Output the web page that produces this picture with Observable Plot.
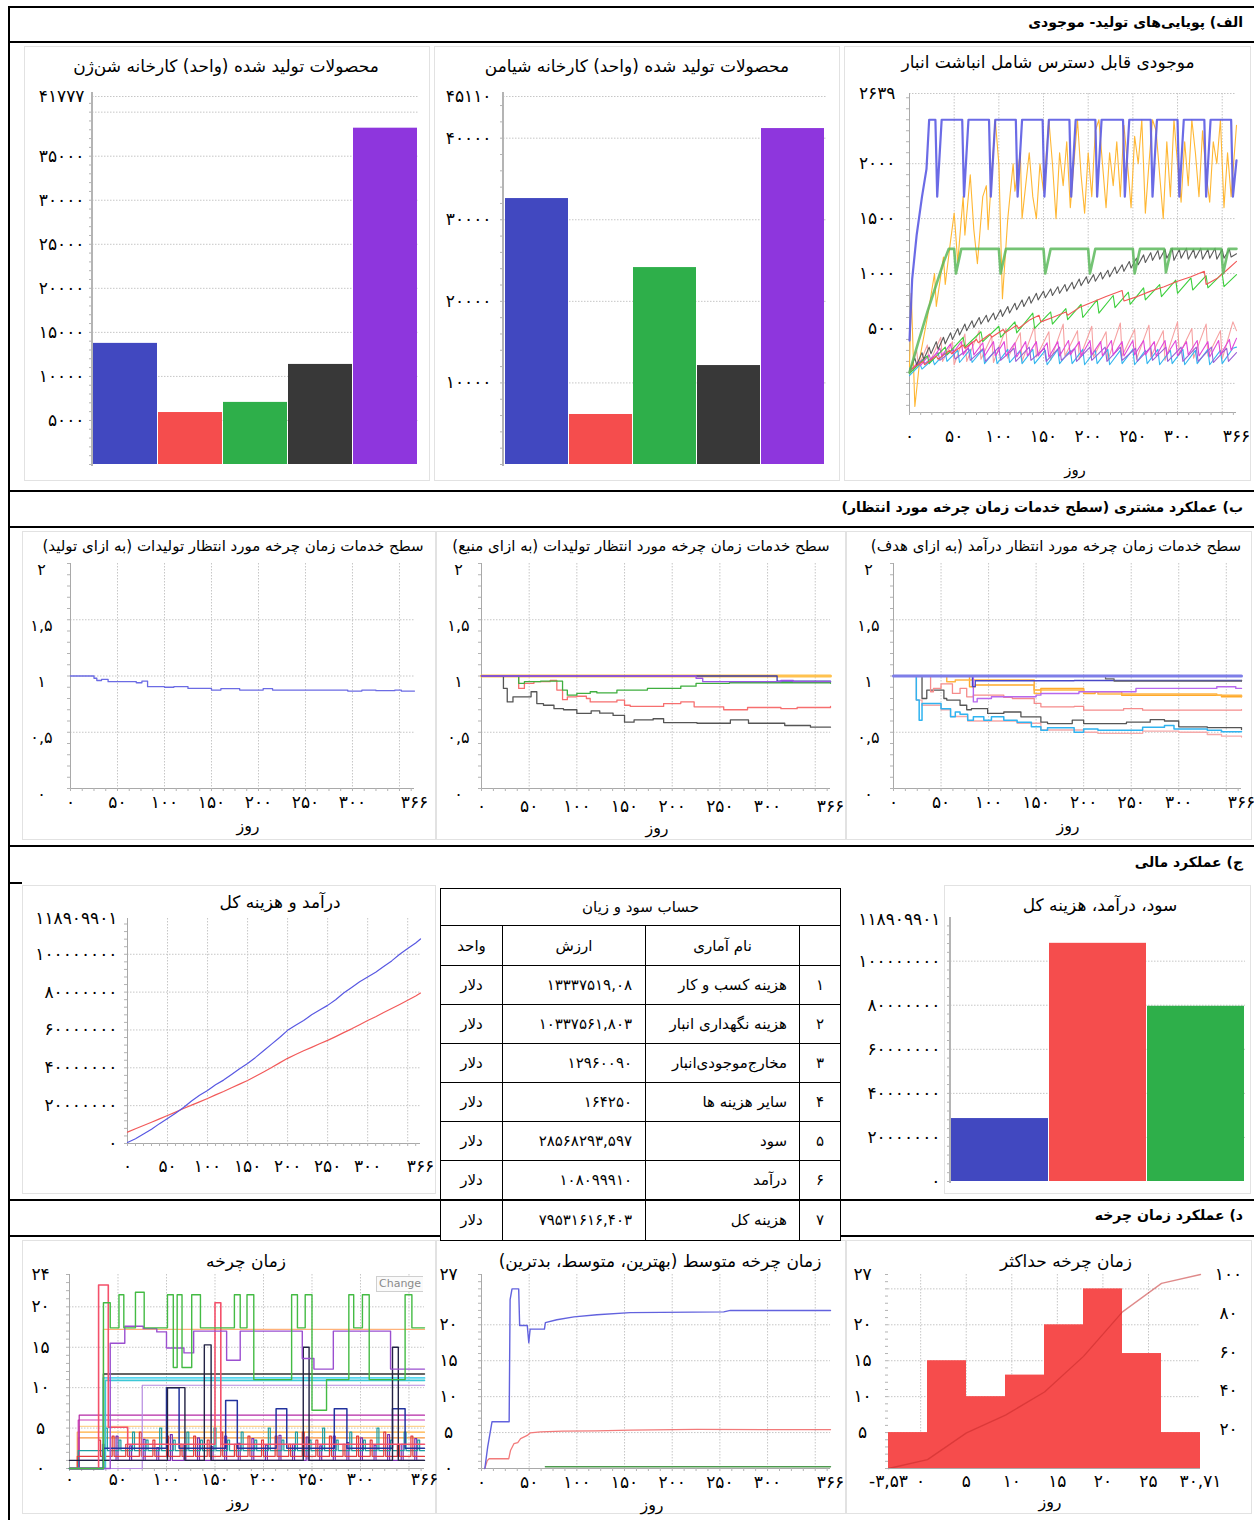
<!DOCTYPE html>
<html lang="fa">
<head>
<meta charset="utf-8">
<title>پویایی‌های تولید، عملکرد مشتری، عملکرد مالی و زمان چرخه</title>
<script src="https://cdn.jsdelivr.net/npm/d3@7"></script>
<script src="https://cdn.jsdelivr.net/npm/@observablehq/plot@0.6"></script>
<style>
  html, body { margin: 0; padding: 0; background: #fff; }
  #page { position: relative; width: 1254px; height: 1520px; overflow: hidden; background: #fff;
          font-family: "DejaVu Sans", sans-serif; color: #000; }
  .rule { position: absolute; background: #000; }
  .soft { position: absolute; background: #b4b4b4; }
  .frame { position: absolute; border: 1.5px solid #e2e2e2; box-sizing: border-box; }
  .lbl { position: absolute; white-space: nowrap; direction: rtl; line-height: 1.2; }
  table.pl { position: absolute; left: 440px; top: 888px; width: 400px; border-collapse: collapse;
             direction: rtl; font-size: 15px; background: #fff; table-layout: fixed; }
  table.pl td { border: 1.5px solid #000; padding: 0 12px; white-space: nowrap; }
  table.pl td.c { text-align: center; padding: 0; }
  table.pl td.r { text-align: right; }
  table.pl td.v { text-align: right; direction: ltr; padding-right: 13px; }
  .btn { position: absolute; left: 376px; top: 1276px; width: 44px; height: 14px; border: 1px solid #cfcfcf;
         border-right: none; font: 11px "DejaVu Sans", sans-serif; color: #8a8a8a; line-height: 14px;
         overflow: hidden; padding-left: 2px; background: #fafafa; }
</style>
</head>
<body>
<div id="page"></div>
<script>
// ---------- tick values ----------
const ticksA1 = [5000, 10000, 15000, 20000, 25000, 30000, 35000, 41777];
const gridA1 = [5000, 10000, 15000, 20000, 25000, 30000, 35000, 40000, 41777];
const ticksA2 = [10000, 20000, 30000, 40000, 45110];
const gridA2 = [10000, 20000, 30000, 40000, 45110];
const ticksA3 = [500, 1000, 1500, 2000, 2639];
const gridA3 = [0, 500, 1000, 1500, 2000, 2639];
const dayTicks = [0, 50, 100, 150, 200, 250, 300, 366];
const dayGrid = [50, 100, 150, 200, 250, 300, 350];
const svcTicks = [0, 0.5, 1, 1.5, 2];
const svcGrid = [0.5, 1, 1.5];
const moneyTicks = [0, 20000000, 40000000, 60000000, 80000000, 100000000, 118909901];
const moneyGrid = [20000000, 40000000, 60000000, 80000000, 100000000];
const ctTicks = [0, 5, 10, 15, 20, 24];
const ctGrid = [5, 10, 15, 20];
const avgTicks = [0, 5, 10, 15, 20, 27];
const avgGrid = [5, 10, 15, 20];
const histXTicks = [-3.53, 0, 5, 10, 15, 20, 25, 30.71];
const histXGrid = [0, 5, 10, 15, 20, 25];
const histYTicks = [5, 10, 15, 20, 27];
const histYGrid = [5, 10, 15, 20, 25];
const histPctTicks = [20, 40, 60, 80, 100];

// ---------- produced units per product ----------
const productIds = ["محصول ۱", "محصول ۲", "محصول ۳", "محصول ۴", "محصول ۵"];
const productColors = ["#4148c0", "#f54d4d", "#2eaf4a", "#383838", "#8e36dd"];
const producedShenzhen = [13750, 5900, 7050, 11360, 38180];
const producedXiamen = [32600, 6130, 24140, 12130, 41180];

// ---------- available inventory (day, units) ----------
const invBlue = [[0,390],[3,950],[8,1350],[14,1700],[19,1950],[22,2400],[29,2400],[31,1700],[36,2400],[59,2400],[61,1700],[66,2400],[89,2400],[91,1700],[96,2400],[119,2400],[121,1700],[126,2400],[149,2400],[151,1700],[156,2400],[179,2400],[181,1700],[186,2400],[208,2400],[210,1700],[215,2400],[239,2400],[241,1700],[246,2400],[270,2400],[272,1700],[277,2400],[300,2400],[302,1700],[307,2400],[330,2400],[332,1700],[337,2400],[360,2400],[362,1700],[366,2030]];
const invOrange = [[0,150],[2,820],[6,-210],[12,250],[20,600],[28,1000],[30,700],[38,1150],[40,900],[46,1300],[50,1550],[54,1100],[60,1700],[62,1350],[68,1900],[72,1400],[76,1090],[82,1700],[86,1800],[88,1400],[92,1900],[96,2400],[100,2000],[104,770],[110,1500],[116,2000],[118,1750],[124,2100],[126,1500],[130,1800],[134,2100],[138,1700],[142,1500],[146,2000],[150,1750],[156,2400],[160,2000],[164,1500],[168,2100],[172,1800],[176,2200],[180,1600],[184,2000],[188,2400],[192,1900],[196,1550],[200,2100],[204,1700],[208,2300],[212,2400],[216,2000],[220,1600],[224,2100],[228,1800],[232,2200],[236,1700],[240,2350],[244,2000],[248,1600],[252,2250],[256,2000],[260,2400],[264,1550],[268,2000],[272,2400],[276,2300],[280,1900],[284,1500],[288,2200],[292,1700],[296,2400],[300,2000],[304,1650],[308,2200],[312,1800],[316,2400],[320,2100],[324,1700],[328,2300],[332,1900],[336,1650],[340,2200],[344,2000],[348,2400],[352,1600],[356,2100],[360,1700],[366,2350]];
const invGreen = [[0,100],[10,380],[20,650],[30,900],[38,1100],[44,1225],[50,1225],[52,1000],[58,1225],[100,1225],[102,1000],[108,1225],[150,1225],[152,1000],[158,1225],[200,1225],[202,1000],[208,1225],[250,1225],[252,1000],[258,1225],[285,1225],[287,1010],[293,1225],[349,1225],[351,1000],[357,1225],[366,1225]];
const invGray = [[0,120],[6,230],[8,170],[14,280],[16,220],[22,330],[24,270],[30,380],[32,310],[38,420],[40,360],[46,460],[48,400],[54,500],[56,440],[62,540],[64,480],[70,570],[72,510],[78,600],[80,540],[86,620],[88,560],[94,640],[96,580],[102,670],[104,610],[110,700],[112,640],[118,730],[120,670],[126,760],[128,700],[134,790],[136,730],[142,820],[144,760],[150,840],[152,780],[158,860],[160,800],[166,880],[168,820],[174,900],[176,840],[182,920],[184,860],[190,950],[192,890],[198,970],[200,910],[206,990],[208,930],[214,1010],[216,950],[222,1030],[224,970],[230,1060],[232,1000],[238,1080],[240,1020],[246,1110],[248,1050],[254,1140],[256,1080],[262,1170],[264,1100],[270,1190],[272,1120],[278,1210],[280,1130],[286,1220],[288,1140],[294,1230],[296,1120],[302,1220],[304,1140],[310,1230],[312,1130],[318,1220],[320,1140],[326,1230],[328,1130],[334,1220],[336,1140],[342,1230],[344,1130],[350,1220],[352,1140],[358,1220],[360,1150],[366,1180]];
const invRed = [[0,120],[15,200],[17,170],[30,250],[32,220],[45,300],[47,270],[60,350],[62,320],[75,400],[77,370],[90,450],[92,420],[105,490],[107,460],[120,530],[122,500],[135,580],[145,620],[147,560],[160,600],[175,650],[177,620],[190,690],[205,740],[220,790],[238,845],[240,750],[255,790],[270,840],[285,880],[300,930],[315,970],[330,1020],[332,900],[345,960],[355,1030],[366,1110]];
const invLime = [[0,90],[20,250],[22,180],[40,330],[42,260],[60,420],[62,330],[80,470],[82,380],[100,520],[102,420],[118,560],[120,460],[138,640],[140,500],[158,650],[160,540],[175,680],[177,580],[192,720],[194,600],[210,760],[212,640],[228,800],[230,690],[245,830],[247,720],[262,870],[264,760],[280,900],[282,790],[298,940],[300,820],[315,960],[317,850],[332,980],[334,870],[350,1000],[352,880],[366,990]];
const invMagenta = [[0,100],[10,200],[12,160],[22,260],[24,210],[34,320],[36,250],[46,360],[48,270],[58,380],[60,260],[70,380],[72,260],[82,370],[84,250],[94,380],[96,250],[106,380],[108,250],[118,370],[120,240],[130,380],[132,250],[142,380],[144,250],[154,370],[156,240],[166,380],[168,250],[178,390],[180,260],[190,380],[192,250],[202,390],[204,260],[214,380],[216,250],[226,390],[228,260],[238,380],[240,250],[250,390],[252,260],[262,390],[264,260],[274,380],[276,250],[286,390],[288,260],[298,390],[300,250],[310,380],[312,260],[322,390],[324,250],[334,380],[336,240],[346,390],[348,260],[358,400],[360,300],[366,410]];
const invCyan = [[0,70],[12,170],[14,130],[26,220],[28,170],[40,280],[42,200],[54,300],[56,190],[68,310],[70,190],[82,310],[84,180],[96,300],[98,180],[110,310],[112,190],[124,300],[126,180],[138,310],[140,180],[152,300],[154,170],[166,310],[168,180],[180,300],[182,180],[194,310],[196,170],[208,300],[210,180],[222,310],[224,170],[236,300],[238,180],[250,310],[252,170],[264,300],[266,180],[278,310],[280,170],[292,300],[294,180],[306,310],[308,170],[320,300],[322,180],[334,310],[336,170],[348,300],[350,180],[362,320],[366,330]];
const invPurple = [[0,110],[15,220],[17,180],[32,280],[34,210],[49,310],[51,220],[66,320],[68,210],[83,320],[85,200],[100,330],[102,210],[117,320],[119,200],[134,330],[136,210],[151,320],[153,200],[168,330],[170,210],[185,320],[187,200],[202,330],[204,210],[219,330],[221,200],[236,330],[238,210],[253,320],[255,200],[270,330],[272,210],[287,330],[289,200],[304,330],[306,200],[321,330],[323,200],[338,330],[340,190],[355,320],[357,200],[366,280]];
const invPink = [[0,100],[8,300],[10,150],[20,350],[22,180],[35,420],[37,200],[48,380],[50,170],[62,450],[64,200],[78,480],[80,220],[92,430],[94,190],[108,500],[110,230],[124,460],[126,200],[140,520],[142,240],[156,470],[158,210],[172,540],[174,250],[188,480],[190,220],[204,520],[206,240],[220,470],[222,210],[236,550],[238,250],[252,490],[254,220],[268,530],[270,240],[284,480],[286,210],[300,560],[302,260],[316,500],[318,230],[332,540],[334,250],[348,480],[350,220],[362,560],[366,480]];

// ---------- expected cycle-time service level (day, level) ----------
const svcProduct = [[0,1],[25,0.98],[28,0.96],[33,0.97],[40,0.95],[70,0.94],[76,0.955],[82,0.905],[100,0.9],[110,0.905],[125,0.89],[150,0.875],[160,0.887],[180,0.875],[205,0.887],[215,0.875],[295,0.866],[310,0.875],[325,0.87],[345,0.875],[352,0.866],[366,0.866]];
const svcResOrange = [[0,1],[366,1]];
const svcResPurple = [[0,1],[225,0.98],[232,0.95],[314,0.96],[327,0.95],[366,0.95]];
const svcResNavy = [[0,1],[300,1],[310,0.955],[366,0.95]];
const svcResGreen = [[0,1],[39,0.935],[45,0.95],[62,0.955],[79,0.955],[85,0.875],[90,0.83],[100,0.845],[114,0.86],[121,0.85],[142,0.875],[174,0.89],[209,0.91],[225,0.935],[260,0.94],[366,0.935]];
const svcResRed = [[0,1],[39,0.89],[45,0.935],[55,0.95],[72,0.96],[79,0.875],[85,0.79],[90,0.815],[100,0.82],[110,0.8],[114,0.77],[142,0.785],[150,0.74],[156,0.73],[191,0.755],[209,0.77],[223,0.726],[254,0.7],[279,0.72],[314,0.71],[331,0.72],[366,0.73]];
const svcResGray = [[0,1],[23,0.89],[27,0.77],[33,0.815],[52,0.86],[58,0.755],[65,0.74],[76,0.71],[86,0.7],[100,0.667],[115,0.69],[124,0.67],[138,0.65],[150,0.59],[160,0.61],[180,0.62],[191,0.586],[226,0.58],[261,0.61],[280,0.58],[318,0.56],[345,0.545],[366,0.545]];
const svcRevTop = [[0,1],[366,1]];
const svcRevGrayTop = [[0,1],[223,0.975],[232,0.955],[366,0.96]];
const svcRevNavy = [[0,1],[83,0.905],[86,0.958],[190,0.96],[366,0.955]];
const svcRevViolet = [[0,1],[84,0.77],[88,0.8],[103,0.815],[150,0.83],[155,0.845],[195,0.86],[255,0.89],[340,0.905],[360,0.89],[366,0.89]];
const svcRevOrange1 = [[0,1],[56,0.95],[65,0.964],[148,0.845],[155,0.875],[200,0.86],[215,0.84],[300,0.84],[340,0.83],[366,0.815]];
const svcRevOrange2 = [[0,1],[80,0.905],[86,0.92],[148,0.875],[155,0.89],[200,0.845],[212,0.86],[240,0.83],[330,0.83],[345,0.815],[366,0.815]];
const svcRevPink = [[0,1],[39,0.86],[42,0.89],[50,0.93],[62,0.845],[70,0.89],[77,0.815],[84,0.83],[116,0.81],[125,0.8],[148,0.756],[155,0.726],[190,0.73],[200,0.696],[242,0.71],[262,0.696],[366,0.7]];
const svcRevGray = [[0,1],[30,0.8],[35,0.875],[53,0.8],[56,0.786],[70,0.74],[77,0.7],[82,0.71],[99,0.667],[116,0.68],[134,0.637],[155,0.59],[162,0.577],[188,0.607],[200,0.577],[245,0.59],[270,0.613],[285,0.6],[300,0.548],[330,0.542],[366,0.524]];
const svcRevCyan = [[0,1],[24,0.786],[27,0.607],[30,0.756],[50,0.71],[60,0.637],[65,0.68],[70,0.66],[78,0.607],[84,0.637],[95,0.607],[103,0.637],[116,0.607],[130,0.59],[145,0.55],[155,0.518],[162,0.54],[190,0.5],[200,0.53],[215,0.518],[262,0.545],[285,0.56],[295,0.53],[330,0.518],[345,0.505],[366,0.505]];
const svcRevPinkLow = [[0,1],[24,0.786],[30,0.74],[50,0.7],[60,0.64],[78,0.6],[95,0.6],[116,0.6],[130,0.58],[155,0.52],[200,0.5],[215,0.49],[262,0.51],[300,0.5],[330,0.48],[345,0.465],[366,0.458]];

// ---------- cumulative revenue and total cost (day, dollars) ----------
const revenueDaily = [[0,0.5e6],[10,2.5e6],[20,5e6],[30,7.5e6],[40,10.5e6],[50,13.2e6],[60,16e6],[70,19e6],[80,22.5e6],[90,25.5e6],[100,28e6],[110,31e6],[120,33.5e6],[130,36.5e6],[140,39.5e6],[150,42.3e6],[160,45.5e6],[170,49e6],[180,52.5e6],[190,56e6],[200,59.8e6],[210,62.5e6],[220,65e6],[230,68e6],[240,70.5e6],[250,73e6],[260,76e6],[270,79.5e6],[280,82.5e6],[290,85.5e6],[300,88e6],[310,90.5e6],[320,93.5e6],[330,96.5e6],[340,100e6],[350,103e6],[360,106e6],[366,108.1e6]];
const costDaily = [[0,6e6],[10,7.8e6],[20,9.5e6],[30,11.2e6],[40,13e6],[50,14.8e6],[60,16.6e6],[70,18.5e6],[80,20.3e6],[90,22e6],[100,23.8e6],[110,25.7e6],[120,27.5e6],[130,29.5e6],[140,31.4e6],[150,33.3e6],[160,35.5e6],[170,37.8e6],[180,40.2e6],[190,42.6e6],[200,45e6],[210,47e6],[220,49e6],[230,50.8e6],[240,52.7e6],[250,54.5e6],[260,56.5e6],[270,58.6e6],[280,60.6e6],[290,62.8e6],[300,65e6],[310,67e6],[320,69.2e6],[330,71.3e6],[340,73.5e6],[350,75.7e6],[360,78e6],[366,79.53e6]];

// ---------- profit and loss statement ----------
const plNames = ["هزینه کسب و کار", "هزینه نگهداری انبار", "مخارج‌موجودی‌انبار", "سایر هزینه ها", "سود", "درآمد", "هزینه کل"];
const plValues = [13337519.08, 10337561.803, 12960090, 164250, 28568293.597, 108099910, 79531616.403];
const plUnit = "دلار";
const finCategories = ["سود", "درآمد", "هزینه کل"];
const finValues = [28568293.597, 108099910, 79531616.403];
const finColors = ["#4148c0", "#f54d4d", "#2eaf4a"];

// ---------- cycle time per order line (day, days) ----------
const ctGreen = [[0,0],[35,20.5],[42,17.4],[51,21.5],[56,17.4],[68,21.8],[77,17.4],[101,21.5],[107,12.5],[111,21.5],[116,12.5],[126,21.5],[135,17.4],[170,21.5],[176,17.4],[183,21.5],[190,11],[229,21.5],[235,17.4],[243,21.5],[250,7.2],[265,11],[288,21.5],[293,17.4],[302,21.5],[309,11],[346,21.5],[353,17.4],[366,17.4]];
const ctPurple = [[0,0],[42,15.5],[57,17.6],[76,17.3],[90,16.9],[100,14.9],[118,14.3],[128,17],[162,13.4],[176,17],[240,13.6],[252,12.3],[272,17],[331,12.3],[366,12.3]];
const ctRed = [[0,0],[30,22.7],[40,5.1],[60,3],[150,20.5],[156,3],[366,3]];
const ctPeach = [[0,0],[35,17.2],[366,17.2]];
const ctBlack = [[0,0],[35,11.7],[366,11.7]];
const ctCyan = [[0,0],[35,11.2],[366,11.2]];
const ctTeal = [[0,0],[37,10.9],[366,10.9]];
const ctLavender = [[0,0],[75,10.3],[366,10.3]];
const ctNavy = [[0,0],[35,2.5],[100,10],[113,2.5],[161,8.4],[173,2.5],[213,7.4],[224,2.5],[273,7.4],[286,2.5],[333,7.4],[346,2.5],[366,2.5]];
const ctDark = [[0,1],[101,10],[119,1],[139,15.3],[146,1],[241,15],[247,1],[333,15],[339,1],[366,1]];
const ctMagenta = [[0,0],[10,6.6],[366,6.6]];
const ctMagenta2 = [[0,0],[9,6],[366,6]];
const ctOrangeLow1 = [[0,0],[8,4.5],[366,4.5]];
const ctOrangeLow2 = [[0,0],[9,3.8],[366,3.8]];
const ctOrangeLow3 = [[0,0],[10,5.2],[366,5.2]];
const ctSpikeA = [[0,0],[8,1.5],[30,3.5],[32,1.5],[44,4],[46,1.5],[58,3],[60,1.5],[72,4.5],[74,1.5],[86,3.5],[88,1.5],[100,4],[102,1.5],[114,3],[116,1.5],[128,4],[130,1.5],[142,3.5],[144,1.5],[156,4.5],[158,1.5],[170,3],[172,1.5],[184,4],[186,1.5],[198,3.5],[200,1.5],[212,4],[214,1.5],[226,3],[228,1.5],[240,4.5],[242,1.5],[254,3.5],[256,1.5],[268,4],[270,1.5],[282,3],[284,1.5],[296,4],[298,1.5],[310,3.5],[312,1.5],[324,4.5],[326,1.5],[338,3],[340,1.5],[352,4],[354,1.5],[366,1.5]];
const ctSpikeB = [[0,0],[9,2.2],[37,5],[39,2.2],[51,3.5],[53,2.2],[65,4.5],[67,2.2],[79,3.5],[81,2.2],[93,5],[95,2.2],[107,3.5],[109,2.2],[121,4.5],[123,2.2],[135,3.5],[137,2.2],[149,5],[151,2.2],[163,3.5],[165,2.2],[177,4.5],[179,2.2],[191,3.5],[193,2.2],[205,5],[207,2.2],[219,3.5],[221,2.2],[233,4.5],[235,2.2],[247,3.5],[249,2.2],[261,5],[263,2.2],[275,3.5],[277,2.2],[289,4.5],[291,2.2],[303,3.5],[305,2.2],[317,5],[319,2.2],[331,3.5],[333,2.2],[345,4.5],[347,2.2],[359,3.5],[361,2.2],[366,2.2]];
const ctSpikeC = [[0,0],[10,1],[34,3],[36,1],[48,4],[50,1],[62,2.8],[64,1],[76,3.6],[78,1],[90,2.6],[92,1],[104,4.2],[106,1],[118,3],[120,1],[132,3.8],[134,1],[146,2.7],[148,1],[160,4],[162,1],[174,3.1],[176,1],[188,3.7],[190,1],[202,2.9],[204,1],[216,4.1],[218,1],[230,3],[232,1],[244,3.9],[246,1],[258,2.8],[260,1],[272,4],[274,1],[286,3.2],[288,1],[300,3.8],[302,1],[314,2.9],[316,1],[328,4.2],[330,1],[342,3],[344,1],[356,3.7],[358,1],[366,1]];

// ---------- average cycle time: worst, mean, best (day, days) ----------
const avgWorst = [[3.5,0],[6.5,3],[11,6.5],[29,6.5],[30,23.5],[32,25],[39,25],[40,19.9],[48,19.9],[49.6,17.5],[51,19.4],[66,19.4],[67,20.3],[79,20.7],[97,21.1],[121,21.4],[156,21.7],[254,21.8],[261,22],[366,22]];
const avgMean = [[3.5,0],[6,1.1],[8,1.36],[28.6,1.36],[30.4,2.5],[34,3.45],[38,3.6],[41,4.15],[48,4.6],[51,4.95],[62,5.1],[85,5.2],[120,5.25],[156,5.35],[226,5.45],[300,5.4],[366,5.4]];
const avgBest = [[67,0.25],[366,0.25]];

// ---------- maximum cycle time histogram ----------
const maxCtEdges = [-3.53, 0.75, 5.03, 9.31, 13.59, 17.87, 22.15, 26.43, 30.71];
const maxCtCounts = [5, 15, 10, 13, 20, 25, 16, 5];

// ================= drawing =================
const page = document.getElementById("page");
const FA = "۰۱۲۳۴۵۶۷۸۹";
const fa = v => String(v).replace(".", ",").replace(/\d/g, d => FA[+d]);
const blank = () => "";

function div(cls, css, text) {
  const el = document.createElement("div");
  if (cls) el.className = cls;
  Object.assign(el.style, css);
  if (text != null) el.textContent = text;
  page.appendChild(el);
  return el;
}
const hline = (x1, x2, y, w = 2, cls = "rule") => div(cls, {left: x1 + "px", top: (y - w / 2) + "px", width: (x2 - x1) + "px", height: w + "px"});
const vline = (x, y1, y2, w = 2, cls = "rule") => div(cls, {left: (x - w / 2) + "px", top: y1 + "px", width: w + "px", height: (y2 - y1) + "px"});
const frame = (x1, y1, x2, y2) => div("frame", {left: x1 + "px", top: y1 + "px", width: (x2 - x1) + "px", height: (y2 - y1) + "px"});
function label(text, x, y, size = 17, opts = {}) {
  const a = opts.anchor || "middle";
  const tx = a === "middle" ? "-50%" : a === "end" ? "-100%" : "0";
  return div("lbl", {left: x + "px", top: (y - size * 0.62) + "px", fontSize: size + "px",
    fontWeight: opts.bold ? "bold" : "normal", transform: `translateX(${tx})`}, text);
}

const gridStyle = {stroke: "#c6c6c6", strokeOpacity: 1, strokeDasharray: "1.5,1.5", strokeWidth: 1};
const axisLine = {stroke: "#a9a9a9", strokeWidth: 1};

function makePlot(box, opts) {
  const {x0, x1, y0, y1, ml, mr, mt, mb} = box;
  const svg = Plot.plot({
    width: x1 - x0 + ml + mr, height: y1 - y0 + mt + mb,
    marginLeft: ml, marginRight: mr, marginTop: mt, marginBottom: mb,
    style: {fontFamily: "DejaVu Sans", fontSize: "16px", background: "transparent", overflow: "visible", color: "#000"},
    ...opts
  });
  Object.assign(svg.style, {position: "absolute", left: (x0 - ml) + "px", top: (y0 - mt) + "px", maxWidth: "none"});
  page.appendChild(svg);
  return svg;
}

function timeFrame({yDomain, yTicks, yGrid, yMinor, yPad, yAnchor = "end", yDy = 0, yFont = 17, xPad, xTicks = dayTicks, xGrid = dayGrid, xMin = 0, xMinor = d3.range(0, 367, 12.5)}) {
  return [
    Plot.gridY(yGrid, gridStyle),
    Plot.gridX(xGrid, gridStyle),
    Plot.ruleX([xMin], axisLine),
    Plot.ruleY([yDomain[0]], axisLine),
    Plot.axisY(yMinor, {tickSize: 3, tickFormat: blank, stroke: "#b3b3b3", label: null}),
    Plot.axisX(xMinor, {tickSize: 3, tickFormat: blank, stroke: "#b3b3b3", label: null}),
    Plot.axisY(yTicks, {tickSize: 0, tickPadding: yPad, textAnchor: yAnchor, dy: yDy, tickFormat: fa, fontSize: yFont, label: null}),
    Plot.axisX(xTicks, {tickSize: 0, tickPadding: xPad, tickFormat: fa, fontSize: 17, label: null})
  ];
}
const line = (data, stroke, strokeWidth = 1.2, extra = {}) =>
  Plot.line(data, {x: d => d[0], y: d => d[1], stroke, strokeWidth, ...extra});
const step = (data, stroke, strokeWidth = 1.2, extra = {}) => line(data, stroke, strokeWidth, {curve: "step-after", ...extra});

// ----- soft panel frames -----
[[24,46,430,481],[434,46,840,481],[844,46,1251,481],[22,531,436,840],[436,531,846,840],[846,531,1252,840],
 [22,885,436,1194],[944,885,1251,1194],[22,1240,436,1514],[436,1240,846,1514],[846,1240,1252,1514]]
  .forEach(f => frame(...f));

// ----- A1: produced units, Shenzhen plant -----
makePlot({x0: 92, x1: 418, y0: 96, y1: 464, ml: 90, mr: 8, mt: 14, mb: 14}, {
  x: {type: "band", domain: productIds, paddingInner: 0.015, paddingOuter: 0, axis: null},
  y: {domain: [0, 41777]},
  color: {type: "identity"},
  marks: [
    Plot.gridY(gridA1, gridStyle),
    Plot.barY(productIds.map((p, i) => ({product: p, value: producedShenzhen[i], color: productColors[i]})), {x: "product", y: "value", fill: "color"}),
    Plot.axisY(d3.range(0, 41777, 1000), {tickSize: 3, tickFormat: blank, stroke: "#b3b3b3", label: null}),
    Plot.axisY(ticksA1, {tickSize: 0, tickPadding: 8, tickFormat: fa, fontSize: 17, label: null})
  ]
});
vline(92, 92, 466, 1.5, "soft");
label("محصولات تولید شده (واحد) کارخانه شن‌ژن", 226, 67, 17);

// ----- A2: produced units, Xiamen plant -----
makePlot({x0: 503, x1: 827, y0: 96, y1: 464, ml: 70, mr: 8, mt: 14, mb: 14}, {
  x: {type: "band", domain: productIds, paddingInner: 0.015, paddingOuter: 0, axis: null},
  y: {domain: [0, 45110]},
  color: {type: "identity"},
  marks: [
    Plot.gridY(gridA2, gridStyle),
    Plot.barY(productIds.map((p, i) => ({product: p, value: producedXiamen[i], color: productColors[i]})), {x: "product", y: "value", fill: "color"}),
    Plot.axisY(d3.range(0, 45110, 2000), {tickSize: 3, tickFormat: blank, stroke: "#b3b3b3", label: null}),
    Plot.axisY(ticksA2, {tickSize: 0, tickPadding: 12, tickFormat: fa, fontSize: 17, label: null})
  ]
});
vline(503, 92, 466, 1.5, "soft");
label("محصولات تولید شده (واحد) کارخانه شیامن", 637, 67, 17);

// ----- A3: available inventory incl. warehouse accumulation -----
makePlot({x0: 909, x1: 1236, y0: 93, y1: 412, ml: 62, mr: 16, mt: 14, mb: 40}, {
  x: {domain: [0, 366]}, y: {domain: [-265, 2639]},
  marks: [
    ...timeFrame({yDomain: [-265, 2639], yTicks: ticksA3, yGrid: gridA3, yMinor: d3.range(-200, 2639, 100), yPad: 14, xPad: 17}),
    line(invOrange, "#ffb733", 1.1),
    line(invPink, "#f6a2a2", 1.1),
    line(invCyan, "#33b6ee", 1.1),
    line(invPurple, "#9a5fd6", 1.1),
    line(invMagenta, "#e145d8", 1.1),
    line(invLime, "#3ccf3c", 1.1),
    line(invRed, "#f25757", 1.1),
    line(invGray, "#5a5a5a", 1.1),
    line(invGreen, "#5cb85c", 2.6, {strokeOpacity: 0.85}),
    line(invBlue, "#5b5be3", 2.2, {strokeOpacity: 0.9})
  ]
});
label("موجودی قابل دسترس شامل انباشت انبار", 1048, 63, 17);
label("روز", 1075, 470, 15);

// ----- B1: service level per product -----
const svcFrame = (yPad, xPad) => timeFrame({yDomain: [0, 2], yTicks: svcTicks, yGrid: svcGrid, yMinor: d3.range(0, 2.01, 0.1), yPad, yAnchor: "middle", yDy: 6, yFont: 16, xPad});
makePlot({x0: 70, x1: 414, y0: 563, y1: 788, ml: 60, mr: 20, mt: 10, mb: 34}, {
  x: {domain: [0, 366]}, y: {domain: [0, 2]},
  marks: [...svcFrame(29, 7), step(svcProduct, "#6b6be4", 1.3)]
});
label("سطح خدمات زمان چرخه مورد انتظار تولیدات (به ازای تولید)", 233, 546, 15);
label("روز", 248, 826, 16);

// ----- B2: service level per resource -----
makePlot({x0: 481, x1: 830, y0: 563, y1: 788, ml: 45, mr: 16, mt: 10, mb: 34}, {
  x: {domain: [0, 366]}, y: {domain: [0, 2]},
  marks: [
    ...svcFrame(23, 11),
    step(svcResOrange, "#ffc24f", 3),
    step(svcResGray, "#555555", 1.3),
    step(svcResRed, "#f66f6f", 1.3),
    step(svcResGreen, "#3fae3f", 1.3),
    step(svcResNavy, "#3a3aa8", 1.3),
    step(svcResPurple, "#9b55e6", 1.3)
  ]
});
label("سطح خدمات زمان چرخه مورد انتظار تولیدات (به ازای منبع)", 641, 546, 15);
label("روز", 657, 828, 16);

// ----- B3: service level per target -----
makePlot({x0: 893, x1: 1241, y0: 563, y1: 788, ml: 45, mr: 10, mt: 10, mb: 34}, {
  x: {domain: [0, 366]}, y: {domain: [0, 2]},
  marks: [
    ...svcFrame(25, 7),
    step(svcRevPinkLow, "#f5a9a9", 1.3),
    step(svcRevCyan, "#2fb3f0", 1.5),
    step(svcRevGray, "#555555", 1.3),
    step(svcRevPink, "#f58c8c", 1.3),
    step(svcRevOrange2, "#ffaa2b", 1.5),
    step(svcRevOrange1, "#ffb545", 1.5),
    step(svcRevViolet, "#b768ee", 1.4),
    step(svcRevNavy, "#4848c8", 1.3),
    step(svcRevGrayTop, "#666666", 1.3),
    step(svcRevTop, "#7e7ee8", 3)
  ]
});
label("سطح خدمات زمان چرخه مورد انتظار درآمد (به ازای هدف)", 1056, 546, 15);
label("روز", 1068, 826, 16);

// ----- C1: cumulative revenue and total cost -----
makePlot({x0: 127, x1: 420, y0: 918, y1: 1143, ml: 115, mr: 20, mt: 10, mb: 35}, {
  x: {domain: [0, 366]}, y: {domain: [0, 118909901]},
  marks: [
    ...timeFrame({yDomain: [0, 118909901], yTicks: moneyTicks, yGrid: moneyGrid, yMinor: d3.range(0, 118909901, 4000000), yPad: 10, xPad: 16, xMinor: d3.range(0, 367, 10)}),
    line(costDaily, "#f25a5a", 1.2),
    line(revenueDaily, "#5858e2", 1.2)
  ]
});
label("درآمد و هزینه کل", 280, 903, 17);

// ----- C2: profit and loss table -----
{
  const t = document.createElement("table");
  t.className = "pl";
  t.innerHTML =
    `<colgroup><col style="width:41px"><col style="width:154px"><col style="width:143px"><col style="width:62px"></colgroup>` +
    `<tr style="height:37px"><td colspan="4" class="c">حساب سود و زیان</td></tr>` +
    `<tr style="height:40px"><td class="c"></td><td class="c">نام آماری</td><td class="c">ارزش</td><td class="c">واحد</td></tr>` +
    plNames.map((n, i) =>
      `<tr style="height:${i === 6 ? 41 : 39}px"><td class="c">${fa(i + 1)}</td><td class="r">${n}</td><td class="v">${fa(plValues[i])}</td><td class="c">${plUnit}</td></tr>`
    ).join("");
  page.appendChild(t);
}

// ----- C3: profit, revenue, total cost -----
makePlot({x0: 950, x1: 1245, y0: 919, y1: 1181, ml: 110, mr: 8, mt: 10, mb: 10}, {
  x: {type: "band", domain: finCategories, paddingInner: 0.01, paddingOuter: 0, axis: null},
  y: {domain: [0, 118909901]},
  color: {type: "identity"},
  marks: [
    Plot.gridY(moneyGrid, gridStyle),
    Plot.barY(finCategories.map((c, i) => ({cat: c, value: finValues[i], color: finColors[i]})), {x: "cat", y: "value", fill: "color"}),
    Plot.axisY(d3.range(0, 118909901, 4000000), {tickSize: 3, tickFormat: blank, stroke: "#b3b3b3", label: null}),
    Plot.axisY(moneyTicks, {tickSize: 0, tickPadding: 10, tickFormat: fa, fontSize: 17, label: null})
  ]
});
vline(950, 917, 1183, 1.5, "soft");
label("سود، درآمد، هزینه کل", 1100, 906, 17);

// ----- D1: cycle time -----
makePlot({x0: 69, x1: 424, y0: 1274, y1: 1468, ml: 60, mr: 10, mt: 10, mb: 26}, {
  x: {domain: [0, 366]}, y: {domain: [0, 24]},
  marks: [
    ...timeFrame({yDomain: [0, 24], yTicks: ctTicks, yGrid: ctGrid, yMinor: d3.range(0, 24.1, 1), yPad: 29, yAnchor: "middle", xPad: 4}),
    step(ctOrangeLow3, "#ffd28f", 1.2),
    step(ctOrangeLow1, "#ffae3d", 1.2),
    step(ctOrangeLow2, "#f7953b", 1.2),
    step(ctMagenta2, "#d040b8", 1.2),
    step(ctMagenta, "#b52aa6", 1.2),
    step(ctSpikeC, "#7a2fb0", 1.2),
    step(ctSpikeB, "#1f9e9e", 1.2),
    step(ctSpikeA, "#e23b3b", 1.2),
    step(ctPeach, "#ffb27a", 1.3),
    step(ctLavender, "#b58ae0", 1.2),
    step(ctTeal, "#3cc8d6", 1.6),
    step(ctCyan, "#56d6f0", 1.8),
    step(ctBlack, "#333333", 1.4),
    step(ctNavy, "#23339e", 1.5),
    step(ctDark, "#222244", 1.4),
    step(ctRed, "#f4506a", 1.6),
    step(ctPurple, "#9b4fd0", 1.4),
    step(ctGreen, "#44bb44", 1.4)
  ]
});
label("زمان چرخه", 246, 1262, 17);
label("روز", 238, 1502, 16);
div("btn", {}, "Change");

// ----- D2: average cycle time (best, mean, worst) -----
makePlot({x0: 481, x1: 830, y0: 1274, y1: 1468, ml: 50, mr: 16, mt: 10, mb: 26}, {
  x: {domain: [0, 366]}, y: {domain: [0, 27]},
  marks: [
    ...timeFrame({yDomain: [0, 27], yTicks: avgTicks, yGrid: avgGrid, yMinor: d3.range(0, 27.1, 1), yPad: 33, yAnchor: "middle", xPad: 7}),
    line(avgBest, "#4e9a4e", 1.4),
    line(avgMean, "#f27a7a", 1.3),
    line(avgWorst, "#6262de", 1.4)
  ]
});
label("زمان چرخه متوسط (بهترین، متوسط، بدترین)", 660, 1262, 17);
label("روز", 652, 1505, 16);

// ----- D3: maximum cycle time histogram with cumulative percentage -----
{
  const total = d3.sum(maxCtCounts);
  const bins = maxCtCounts.map((c, i) => ({x1: maxCtEdges[i], x2: maxCtEdges[i + 1], count: c}));
  const cum = d3.cumsum(maxCtCounts);
  const cumLine = [[maxCtEdges[0], 0], ...maxCtCounts.map((c, i) => [maxCtEdges[i + 1], cum[i] / total * 27])];
  makePlot({x0: 888, x1: 1200, y0: 1274, y1: 1468, ml: 45, mr: 45, mt: 10, mb: 26}, {
    x: {domain: [-3.53, 30.71]}, y: {domain: [0, 27]},
    marks: [
      Plot.gridY(histYGrid, gridStyle),
      Plot.gridX(histXGrid, gridStyle),
      Plot.rectY(bins, {x1: "x1", x2: "x2", y: "count", fill: "#f64c4c"}),
      Plot.line(cumLine, {x: d => d[0], y: d => d[1], stroke: "#c42a2a", strokeOpacity: 0.55, strokeWidth: 1.3}),
      Plot.ruleY([0], axisLine),
      Plot.axisY(d3.range(0, 27.1, 1), {tickSize: 3, tickFormat: blank, stroke: "#b3b3b3", label: null}),
      Plot.axisY(histYTicks, {tickSize: 0, tickPadding: 26, textAnchor: "middle", tickFormat: fa, fontSize: 17, label: null}),
      Plot.axisY(histPctTicks.map(p => p * 0.27), {anchor: "right", tickSize: 0, tickPadding: 28, textAnchor: "middle", tickFormat: v => fa(Math.round(v / 0.27)), fontSize: 17, label: null}),
      Plot.axisX(histXTicks, {tickSize: 0, tickPadding: 6, tickFormat: fa, fontSize: 17, label: null})
    ]
  });
  label("زمان چرخه حداکثر", 1066, 1262, 17);
  label("روز", 1050, 1502, 16);
}

// ----- section frame and headers -----
vline(9, 6, 1520, 2);
hline(8, 1254, 7, 2);
hline(8, 1254, 42, 2);
hline(8, 1254, 491, 2);
hline(8, 1254, 527, 2);
hline(8, 1254, 846, 2);
hline(8, 22, 883, 2);
hline(8, 1254, 1200, 2);
hline(8, 440, 1236, 2);
hline(840, 1254, 1236, 2);
label("الف) پویایی‌های تولید- موجودی", 1243, 23, 14, {anchor: "end", bold: true});
label("ب) عملکرد مشتری (سطح خدمات زمان چرخه مورد انتظار)", 1243, 508, 14, {anchor: "end", bold: true});
label("ج) عملکرد مالی", 1243, 863, 14, {anchor: "end", bold: true});
label("د) عملکرد زمان چرخه", 1243, 1216, 14, {anchor: "end", bold: true});
</script>
</body>
</html>
